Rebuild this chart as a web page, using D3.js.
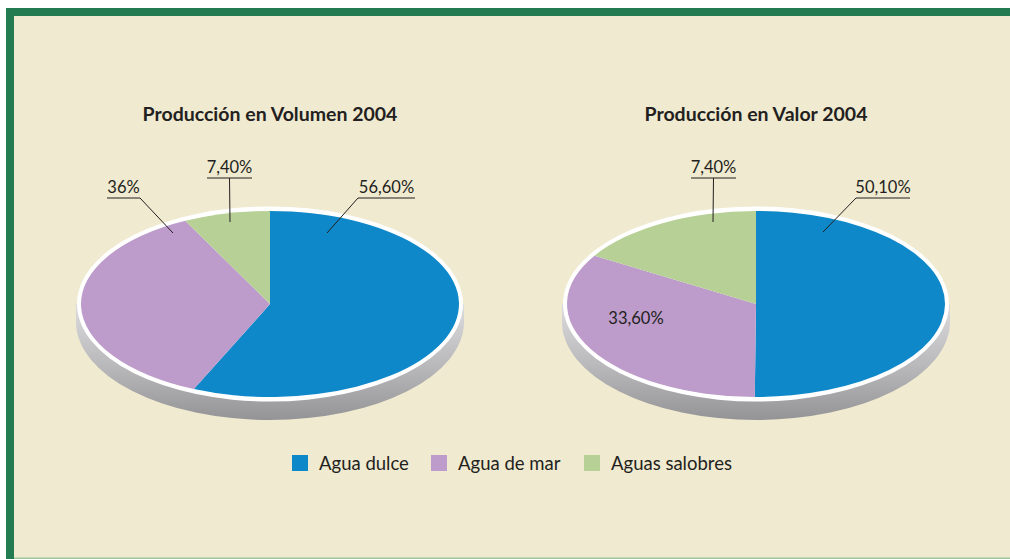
<!DOCTYPE html>
<html>
<head>
<meta charset="utf-8">
<script src="https://cdn.jsdelivr.net/npm/d3@7"></script>
<style>
  body { margin: 0; background: #fff; }
  text { font-family: Lato, "Open Sans", sans-serif; fill: #231f20; }
</style>
</head>
<body>
<div id="main"></div>
<script>
const width = 1010;
const height = 559;

// data
const categories = ['Agua dulce', 'Agua de mar', 'Aguas salobres'];
const colors = ['#0e88c9', '#bd9bca', '#b7d096'];
const titles = ['Producción en Volumen 2004', 'Producción en Valor 2004'];
const volumenShares = [56.6, 36.0, 7.4];
const valorShares = [50.1, 33.6, 16.3];   // slice sizes as drawn
const volumenLabels = ['56,60%', '36%', '7,40%'];
const valorLabels = ['50,10%', '33,60%', '7,40%'];

// label layout: anchor inside slice (dx, dy from centre), underline span and y
const volumenLayout = [
  {ax: 57, ay: -71, x0: 358, x1: 415, y: 198, from: 'left'},
  {ax: -97, ay: -71, x0: 107, x1: 140, y: 198, from: 'right'},
  {ax: -40, ay: -82, x0: 207, x1: 252, y: 178, from: 'mid'}
];
const valorLayout = [
  {ax: 67, ay: -72, x0: 856, x1: 910, y: 198, from: 'left'},
  {inside: true, ax: -120, ay: 20},
  {ax: -43, ay: -82, x0: 691, x1: 736, y: 178, from: 'mid'}
];

const svg = d3.select('#main')
    .append('svg')
    .attr('width', width)
    .attr('height', height);

// frame
svg.append('rect').attr('x', 6).attr('y', 8).attr('width', width - 6).attr('height', height - 8).attr('fill', '#237b52');
svg.append('rect').attr('x', 14).attr('y', 16).attr('width', width - 14).attr('height', height - 16).attr('fill', '#9cc79a');
svg.append('rect').attr('x', 14).attr('y', 16).attr('width', width - 14).attr('height', height - 16 - 1.5).attr('fill', '#f0ead0');

const defs = svg.append('defs');
const grad = defs.append('linearGradient')
    .attr('id', 'side')
    .attr('x1', 0).attr('y1', 0).attr('x2', 0).attr('y2', 1);
grad.append('stop').attr('offset', '0%').attr('stop-color', '#dcdcde');
grad.append('stop').attr('offset', '60%').attr('stop-color', '#b4b4b7');
grad.append('stop').attr('offset', '100%').attr('stop-color', '#949497');

const rx = 193, ry = 97, rim = 4, depth = 18;
const pie = d3.pie().sort(null).startAngle(0).endAngle(2 * Math.PI);

function drawPie(cx, cy, title, shares, labels, layout) {
  const g = svg.append('g').attr('transform', `translate(${cx},${cy})`);

  svg.append('text')
      .attr('x', cx).attr('y', 121)
      .attr('text-anchor', 'middle')
      .attr('font-size', 19.5)
      .attr('font-weight', 'bold')
      .text(title);

  // cylinder side
  g.append('path')
      .attr('d', `M${-rx - 1},0 L${-rx - 1},${depth} A${rx + 1},${ry + 1} 0 0 0 ${rx + 1},${depth} L${rx + 1},0 Z`)
      .attr('fill', 'url(#side)');

  // white rim
  g.append('ellipse').attr('rx', rx).attr('ry', ry + 0.5).attr('fill', '#fff');

  const r = rx - rim;
  const k = (ry - rim) / r;
  const arc = d3.arc().innerRadius(0).outerRadius(r);
  g.append('g')
      .attr('transform', `scale(1,${k})`)
      .selectAll('path')
      .data(pie(shares))
      .join('path')
      .attr('d', arc)
      .attr('fill', (d, i) => colors[i]);

  layout.forEach((l, i) => {
    if (l.inside) {
      svg.append('text')
          .attr('x', cx + l.ax).attr('y', cy + l.ay)
          .attr('text-anchor', 'middle')
          .attr('font-size', 16.5)
          .text(labels[i]);
      return;
    }
    const sx = l.from === 'left' ? l.x0 : l.from === 'right' ? l.x1 : (l.x0 + l.x1) / 2;
    svg.append('line')
        .attr('x1', l.x0).attr('x2', l.x1).attr('y1', l.y).attr('y2', l.y)
        .attr('stroke', '#231f20').attr('stroke-width', 1);
    svg.append('line')
        .attr('x1', sx).attr('y1', l.y).attr('x2', cx + l.ax).attr('y2', cy + l.ay)
        .attr('stroke', '#231f20').attr('stroke-width', 1);
    svg.append('text')
        .attr('x', (l.x0 + l.x1) / 2).attr('y', l.y - 5)
        .attr('text-anchor', 'middle')
        .attr('font-size', 16.5)
        .text(labels[i]);
  });
}

drawPie(270, 304, titles[0], volumenShares, volumenLabels, volumenLayout);
drawPie(756, 304, titles[1], valorShares, valorLabels, valorLayout);

// legend
const legendX = [292, 431, 584];
const legend = svg.append('g')
    .selectAll('g')
    .data(categories)
    .join('g')
    .attr('transform', (d, i) => `translate(${legendX[i]},455)`);
legend.append('rect')
    .attr('width', 16).attr('height', 16)
    .attr('fill', (d, i) => colors[i]);
legend.append('text')
    .attr('x', 27).attr('y', 14.5)
    .attr('font-size', 18.5)
    .text(d => d);
</script>
</body>
</html>
